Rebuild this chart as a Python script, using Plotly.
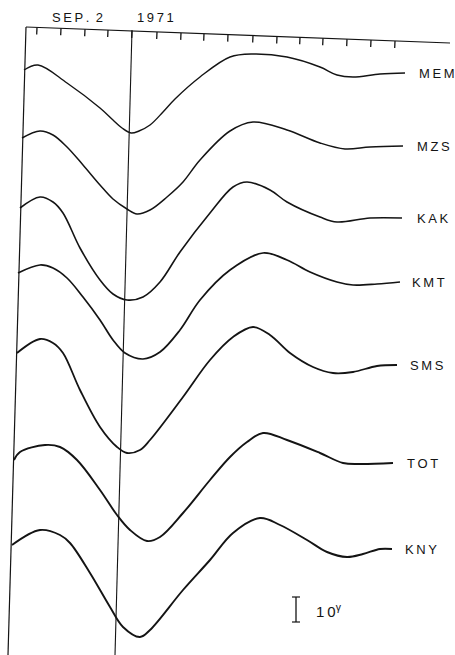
import plotly.graph_objects as go

# ---- data (x = time units along the top scale, y = recorder deflection units, downward) ----
stations = ["MEM", "MZS", "KAK", "KMT", "SMS", "TOT", "KNY"]

mem_x = [24, 38, 67, 100, 113, 122, 131, 139, 150, 163, 175, 200, 230, 253, 287, 320, 337, 353, 380, 405]
mem_y = [70, 65, 83, 108, 120, 128, 133, 131, 125, 112, 99, 77, 57, 54, 57, 67, 75, 77, 74, 73]

mzs_x = [22, 40, 53, 67, 83, 100, 113, 127, 137, 150, 167, 183, 200, 230, 253, 287, 320, 345, 370, 403]
mzs_y = [138, 131, 135, 147, 165, 185, 199, 209, 214, 210, 197, 182, 160, 131, 122, 130, 143, 149, 147, 146]

kak_x = [20, 40, 53, 63, 80, 100, 113, 127, 143, 160, 180, 210, 233, 247, 270, 287, 320, 337, 370, 402]
kak_y = [208, 197, 202, 213, 248, 280, 294, 300, 297, 282, 252, 213, 187, 182, 190, 202, 217, 222, 218, 218]

kmt_x = [18, 40, 53, 67, 83, 100, 113, 125, 143, 160, 180, 200, 230, 263, 287, 310, 337, 353, 377, 400]
kmt_y = [273, 265, 268, 278, 297, 320, 340, 353, 359, 352, 330, 300, 270, 253, 260, 272, 282, 285, 284, 282]

sms_x = [17, 40, 53, 63, 80, 100, 117, 127, 140, 150, 183, 210, 233, 253, 270, 290, 313, 333, 353, 377, 397]
sms_y = [353, 339, 343, 353, 390, 427, 447, 453, 450, 440, 397, 360, 337, 327, 335, 353, 367, 373, 372, 366, 365]

tot_x = [14, 20, 45, 60, 77, 100, 117, 130, 147, 160, 183, 210, 230, 247, 263, 287, 320, 343, 360, 393]
tot_y = [460, 452, 445, 447, 460, 490, 515, 530, 541, 537, 513, 480, 457, 442, 433, 440, 453, 463, 464, 463]

kny_x = [12, 40, 60, 70, 90, 110, 123, 140, 150, 183, 210, 233, 260, 280, 307, 327, 347, 363, 380, 392]
kny_y = [545, 530, 535, 543, 573, 607, 627, 637, 630, 590, 560, 533, 518, 525, 540, 552, 557, 554, 549, 549]

series_x = [mem_x, mzs_x, kak_x, kmt_x, sms_x, tot_x, kny_x]
series_y = [mem_y, mzs_y, kak_y, kmt_y, sms_y, tot_y, kny_y]

# time scale ticks along the top
tick_x = [37, 61, 85, 108, 132, 157, 181, 204, 228, 253, 277, 300, 323, 347, 371, 395]
date_label = "S\u2009E\u2009P\u2009. \u20092"
year_label = "1\u20099\u20097\u20091"
scale_label = "1\u20090<sup>γ</sup>"

# ---- styling ----
ink = "#141414"
widths = [1.4, 1.5, 1.6, 1.7, 1.8, 1.9, 1.9]
label_x = [417, 415, 415, 410, 408, 405, 403]
font = dict(family="Liberation Sans, Arial", size=13, color=ink)

fig = go.Figure()
for name, xs, ys, w in zip(stations, series_x, series_y, widths):
    fig.add_trace(go.Scatter(x=xs, y=ys, mode="lines", name=name,
                             line=dict(color=ink, width=w, shape="spline", smoothing=1.0),
                             hoverinfo="skip", showlegend=False))

annotations = []
for name, xs, ys, lx in zip(stations, series_x, series_y, label_x):
    annotations.append(dict(x=lx, y=ys[-1], xref="x", yref="y", text="\u2009".join(name),
                            showarrow=False, xanchor="left", yanchor="middle", font=font))

annotations.append(dict(x=77, y=17, xref="x", yref="y", text=date_label, showarrow=False, font=font))
annotations.append(dict(x=155, y=17, xref="x", yref="y", text=year_label, showarrow=False, font=font))
annotations.append(dict(x=314, y=610, xref="x", yref="y", text=scale_label, showarrow=False,
                        xanchor="left", yanchor="middle",
                        font=dict(family="Liberation Sans, Arial", size=15, color=ink)))

shapes = []
# top time axis (slightly tilted as in the scan)
ax_x0, ax_y0, ax_x1, ax_y1 = 26, 27, 450, 43
slope = (ax_y1 - ax_y0) / (ax_x1 - ax_x0)
shapes.append(dict(type="line", xref="x", yref="y", x0=ax_x0, y0=ax_y0, x1=ax_x1, y1=ax_y1,
                   line=dict(color=ink, width=1.2)))
for tx in tick_x:
    ty = ax_y0 + slope * (tx - ax_x0)
    shapes.append(dict(type="line", xref="x", yref="y", x0=tx, y0=ty, x1=tx - 0.3, y1=ty + 7,
                       line=dict(color=ink, width=1.3)))
# left frame line and event marker line
shapes.append(dict(type="line", xref="x", yref="y", x0=26, y0=27, x1=8, y1=655,
                   line=dict(color=ink, width=1.2)))
shapes.append(dict(type="line", xref="x", yref="y", x0=132, y0=30, x1=115, y1=655,
                   line=dict(color=ink, width=1.1)))
# scale bar (10 gamma)
shapes.append(dict(type="line", xref="x", yref="y", x0=296, y0=597, x1=296, y1=622,
                   line=dict(color=ink, width=1.3)))
shapes.append(dict(type="line", xref="x", yref="y", x0=292, y0=597, x1=300, y1=597,
                   line=dict(color=ink, width=1.2)))
shapes.append(dict(type="line", xref="x", yref="y", x0=292, y0=622, x1=300, y1=622,
                   line=dict(color=ink, width=1.2)))

fig.update_layout(
    width=455, height=655,
    margin=dict(l=0, r=0, t=0, b=0),
    paper_bgcolor="white", plot_bgcolor="white",
    xaxis=dict(range=[0, 455], visible=False, fixedrange=True),
    yaxis=dict(range=[655, 0], visible=False, fixedrange=True),
    annotations=annotations, shapes=shapes,
)

# remove the browser's default page margin so the figure fills the 455x655 window exactly
fig.write_html("out.html",
               config={"displayModeBar": False, "staticPlot": True},
               post_script="document.body.style.margin='0';document.body.style.overflow='hidden';")
